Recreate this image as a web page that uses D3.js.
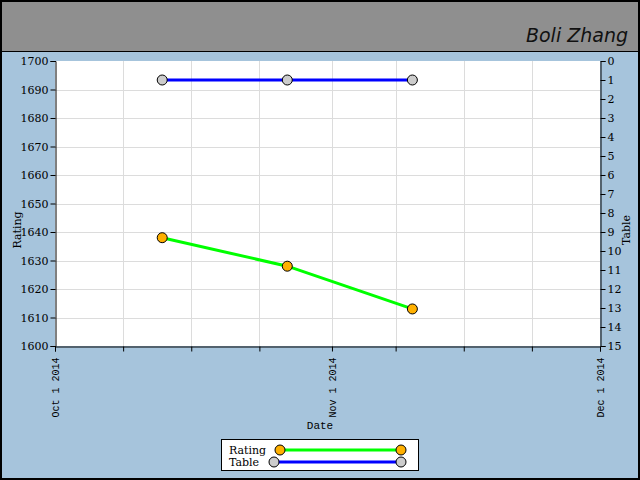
<!DOCTYPE html>
<html><head><meta charset="utf-8">
<script src="https://cdn.jsdelivr.net/npm/d3@7"></script>
<style>html,body{margin:0;padding:0;background:#fff}svg{display:block}</style>
</head><body>
<script>
const dates = ["2014-10-13","2014-10-27","2014-11-10"];
const ratingValues = [1638, 1628, 1613];
const tableValues = [1, 1, 1];
const xTickLabels = ["2014-10-01","2014-11-01","2014-12-01"];
const ratingTicks = [1600,1610,1620,1630,1640,1650,1660,1670,1680,1690,1700];
const tableTicks = d3.range(0,16);

const W=640,H=480;
const svg=d3.select("body").append("svg").attr("width",W).attr("height",H);
const parse=d3.timeParse("%Y-%m-%d");
const fmt=d3.timeFormat("%b %-d %Y");

svg.append("rect").attr("x",0).attr("y",0).attr("width",W).attr("height",H).attr("fill","#a6c4dc");
svg.append("rect").attr("x",0).attr("y",0).attr("width",W).attr("height",51).attr("fill","#8f8f8f");
svg.append("line").attr("x1",0).attr("x2",W).attr("y1",51.5).attr("y2",51.5).attr("stroke","#000");
svg.append("rect").attr("x",1).attr("y",1).attr("width",W-2).attr("height",H-2).attr("fill","none").attr("stroke","#000").attr("stroke-width",2);
svg.append("text").attr("x",628).attr("y",42).attr("text-anchor","end").attr("font-family","'DejaVu Sans',sans-serif").attr("font-size",19).attr("font-style","italic").attr("fill","#111").text("Boli Zhang");

const L=55,R=600,T=61,B=346;
const x=d3.scaleTime().domain([parse(xTickLabels[0]),parse(xTickLabels[2])]).range([L,R]);
const yR=d3.scaleLinear().domain([1600,1700]).range([B,T]);
const yT=d3.scaleLinear().domain([15,0]).range([B,T]);

svg.append("rect").attr("x",L).attr("y",T).attr("width",R-L).attr("height",B-T).attr("fill","#fff");

const mid=parse(xTickLabels[1]);
const xGrid=[1,2,3,5,6,7].map(i=>x.invert(L+(R-L)*i/8)).concat([mid]).sort((a,b)=>a-b);
svg.append("g").selectAll("line").data(xGrid).join("line")
 .attr("x1",d=>Math.round(x(d))+0.5).attr("x2",d=>Math.round(x(d))+0.5).attr("y1",T).attr("y2",B)
 .attr("stroke","#dcdcdc");
svg.append("g").selectAll("line").data(ratingTicks.slice(1,-1)).join("line")
 .attr("x1",L).attr("x2",R).attr("y1",d=>Math.round(yR(d))+0.5).attr("y2",d=>Math.round(yR(d))+0.5)
 .attr("stroke","#dcdcdc");

const font="'DejaVu Serif',serif";
const mono="'Liberation Mono','DejaVu Sans Mono',monospace";
const gl=svg.append("g").attr("transform",`translate(${L+0.5},0)`)
 .call(d3.axisLeft(yR).tickValues(ratingTicks).tickSize(5).tickPadding(2).tickFormat(d3.format("d")));
const gr=svg.append("g").attr("transform",`translate(${R+0.5},0)`)
 .call(d3.axisRight(yT).tickValues(tableTicks).tickSize(5).tickPadding(2).tickFormat(d3.format("d")));
const allX=[x.domain()[0],...xGrid,x.domain()[1]];
const labelSet=new Set(xTickLabels);
const gb=svg.append("g").attr("transform",`translate(0,${B+0.5})`)
 .call(d3.axisBottom(x).tickValues(allX).tickSize(5).tickFormat(d=>labelSet.has(d3.timeFormat("%Y-%m-%d")(d))?fmt(d):""));
gb.selectAll("text").attr("transform","rotate(-90)").attr("text-anchor","end").attr("x",-11).attr("y",0).attr("dy","0.35em");
[gl,gr,gb].forEach(g=>{
  g.selectAll("text").attr("font-family",font).attr("font-size",11).attr("fill","#000");
  g.select(".domain").attr("stroke","#000");
  g.selectAll(".tick line").attr("stroke","#000");
});
gb.selectAll("text").attr("font-family",mono).attr("font-size",10);

svg.append("text").attr("transform","translate(21,230) rotate(-90)").attr("text-anchor","middle").attr("font-family",font).attr("font-size",11).text("Rating");
svg.append("text").attr("transform","translate(630,230) rotate(-90)").attr("text-anchor","middle").attr("font-family",font).attr("font-size",11).text("Table");
svg.append("text").attr("x",320).attr("y",429).attr("text-anchor","middle").attr("font-family",mono).attr("font-size",11).text("Date");

const rData=dates.map((d,i)=>({x:parse(d),y:ratingValues[i]}));
const tData=dates.map((d,i)=>({x:parse(d),y:tableValues[i]}));
svg.append("path").datum(tData).attr("fill","none").attr("stroke","#0000ff").attr("stroke-width",3)
 .attr("d",d3.line().x(d=>x(d.x)).y(d=>yT(d.y)));
svg.append("path").datum(rData).attr("fill","none").attr("stroke","#00ff00").attr("stroke-width",3)
 .attr("d",d3.line().x(d=>x(d.x)).y(d=>yR(d.y)));
svg.append("g").selectAll("circle").data(tData).join("circle")
 .attr("cx",d=>x(d.x)).attr("cy",d=>yT(d.y)).attr("r",5).attr("fill","#cccccc").attr("stroke","#000");
svg.append("g").selectAll("circle").data(rData).join("circle")
 .attr("cx",d=>x(d.x)).attr("cy",d=>yR(d.y)).attr("r",5).attr("fill","#ffb000").attr("stroke","#000");

const lg=svg.append("g");
lg.append("rect").attr("x",221.5).attr("y",439.5).attr("width",197).attr("height",31).attr("fill","#fff").attr("stroke","#000");
const leg=[{name:"Rating",color:"#00ff00",fill:"#ffb000",x1:280,y:450},{name:"Table",color:"#0000ff",fill:"#cccccc",x1:274,y:462}];
leg.forEach(l=>{
  lg.append("text").attr("x",229).attr("y",l.y+4).attr("font-family",font).attr("font-size",11).text(l.name);
  lg.append("line").attr("x1",l.x1).attr("x2",401).attr("y1",l.y).attr("y2",l.y).attr("stroke",l.color).attr("stroke-width",3);
  [l.x1,401].forEach(cx=>lg.append("circle").attr("cx",cx).attr("cy",l.y).attr("r",5).attr("fill",l.fill).attr("stroke","#000"));
});
</script>
</body></html>
